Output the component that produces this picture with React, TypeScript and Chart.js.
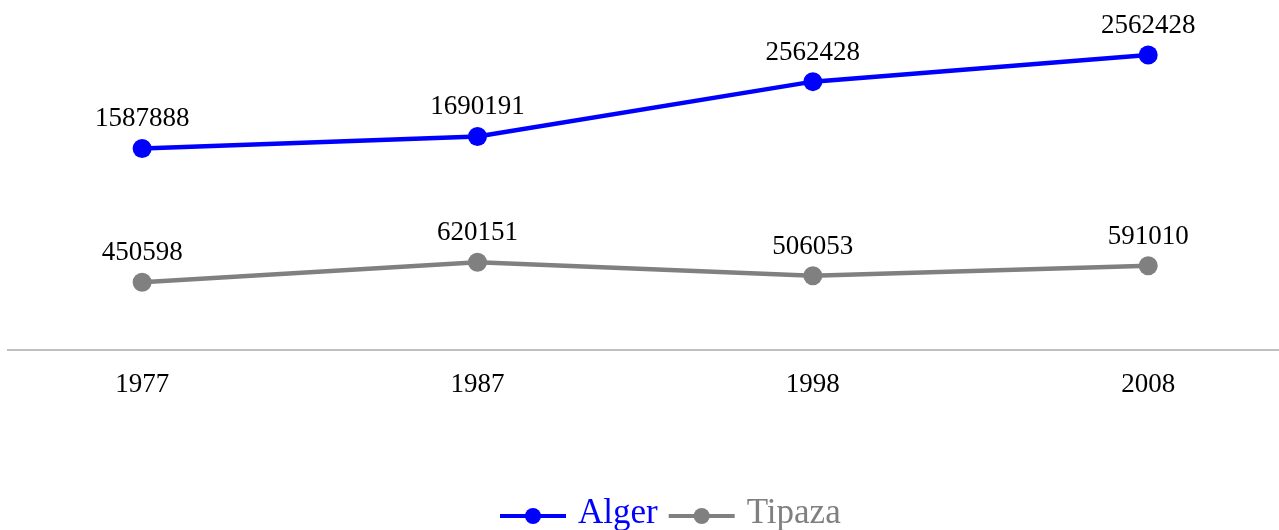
import React, { useEffect, useRef } from "react";
import { Chart, registerables } from "chart.js";

Chart.register(...registerables);

const years = ["1977", "1987", "1998", "2008"];
const algerValues = [1587888, 1690191, 2156000, 2383000];
const tipazaValues = [450598, 620151, 506053, 591010];
const algerLabels = ["1587888", "1690191", "2562428", "2562428"];
const tipazaLabels = ["450598", "620151", "506053", "591010"];
const seriesNames = ["Alger", "Tipaza"];
const seriesColors = ["#0000ff", "#808080"];

const FONT = "'Liberation Serif', 'DejaVu Serif', serif";

const dataLabelPlugin = {
  id: "valueLabels",
  afterDatasetsDraw(chart: any) {
    const ctx = chart.ctx;
    const labelSets = [algerLabels, tipazaLabels];
    ctx.save();
    ctx.font = `27px ${FONT}`;
    ctx.fillStyle = "#000";
    ctx.textAlign = "center";
    ctx.textBaseline = "alphabetic";
    chart.data.datasets.forEach((_: any, di: number) => {
      const meta = chart.getDatasetMeta(di);
      meta.data.forEach((el: any, i: number) => {
        ctx.fillText(labelSets[di][i], el.x, el.y - 22);
      });
    });
    ctx.restore();
  },
};

const legendPlugin = {
  id: "lineLegend",
  afterDraw(chart: any) {
    const ctx = chart.ctx;
    ctx.save();
    ctx.font = `35px ${FONT}`;
    const lineLen = 66;
    const textGap = 12;
    const itemGap = 11;
    const widths = seriesNames.map((n) => ctx.measureText(n).width);
    let x = 500;
    const yLine = 516;
    const yText = 523;
    seriesNames.forEach((name, i) => {
      const c = seriesColors[i];
      ctx.strokeStyle = c;
      ctx.lineWidth = 4;
      ctx.beginPath();
      ctx.moveTo(x, yLine);
      ctx.lineTo(x + lineLen, yLine);
      ctx.stroke();
      ctx.fillStyle = c;
      ctx.beginPath();
      ctx.arc(x + lineLen / 2, yLine, 8, 0, Math.PI * 2);
      ctx.fill();
      ctx.textAlign = "left";
      ctx.textBaseline = "alphabetic";
      ctx.fillText(name, x + lineLen + textGap, yText);
      x += lineLen + textGap + widths[i] + itemGap;
    });
    ctx.restore();
  },
};

export default function App() {
  const ref = useRef<HTMLCanvasElement | null>(null);

  useEffect(() => {
    document.body.style.margin = "0";
    const canvas = ref.current;
    if (!canvas) return;
    const valueSets = [algerValues, tipazaValues];
    const chart = new Chart(canvas, {
      type: "line",
      data: {
        datasets: seriesNames.map((name, si) => ({
          label: name,
          data: valueSets[si].map((v, i) => ({ x: i, y: v })),
          borderColor: seriesColors[si],
          backgroundColor: seriesColors[si],
          pointBackgroundColor: seriesColors[si],
          pointBorderWidth: 0,
          pointRadius: 9.5,
          borderWidth: 4.5,
          tension: 0,
          fill: false,
          clip: false as any,
        })),
      },
      options: {
        responsive: false,
        animation: false,
        layout: { autoPadding: false, padding: { left: 8, right: 0, top: 0, bottom: 0 } },
        plugins: {
          legend: { display: false },
          tooltip: { enabled: false },
        },
        scales: {
          x: {
            type: "linear",
            min: -0.4,
            max: 3.39,
            afterBuildTicks: (s: any) => {
              s.ticks = years.map((_, i) => ({ value: i }));
            },
            afterFit: (s: any) => {
              s.height = 180;
              s.paddingLeft = 0;
              s.paddingRight = 0;
            },
            grid: { display: false, drawTicks: false, tickLength: 0 },
            border: { display: true, color: "#c0c0c0", width: 2 },
            ticks: {
              padding: 19,
              color: "#000",
              font: { family: FONT, size: 27 },
              callback: (v: any) => years[Math.round(Number(v))] ?? "",
            },
          },
          y: {
            display: false,
            min: -125000,
            max: 2850000,
          },
        },
      },
      plugins: [dataLabelPlugin, legendPlugin],
    });
    return () => chart.destroy();
  }, []);

  return (
    <div style={{ width: 1279, height: 530 }}>
      <canvas ref={ref} width={1279} height={530} style={{ display: "block" }} />
    </div>
  );
}
